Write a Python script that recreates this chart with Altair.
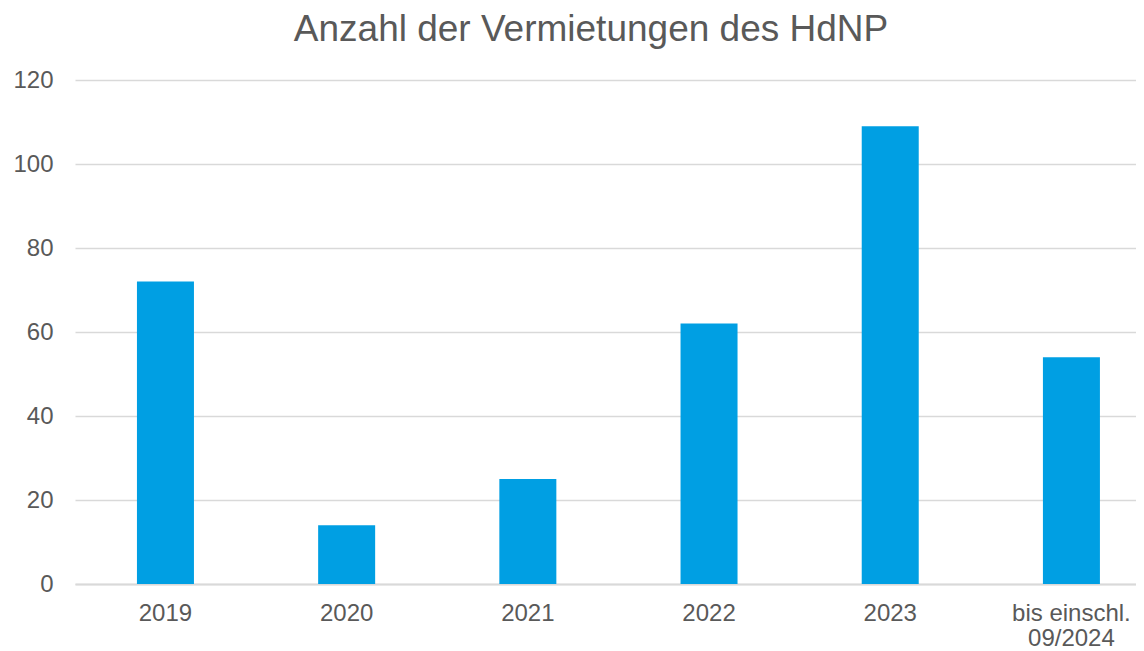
import altair as alt
import pandas as pd

categories = ["2019", "2020", "2021", "2022", "2023", "bis einschl.\n09/2024"]
values = [72, 14, 25, 62, 109, 54]
y_ticks = [0, 20, 40, 60, 80, 100, 120]

df = pd.DataFrame({"Jahr": categories, "Anzahl": values})

FONT = "Liberation Sans"
GRAY = "#595959"

chart = (
    alt.Chart(df)
    .mark_bar(color="#009FE3")
    .encode(
        x=alt.X(
            "Jahr:N",
            sort=categories,
            scale=alt.Scale(paddingInner=0.6854, paddingOuter=0.2705, align=0.632),
            axis=alt.Axis(
                title=None,
                labelAngle=0,
                ticks=False,
                domainColor="#d9d9d9",
                domainWidth=2,
                labelFont=FONT,
                labelFontSize=24,
                labelColor=GRAY,
                labelPadding=17,
                labelLineHeight=25,
                labelExpr="split(datum.label, '\\n')",
            ),
        ),
        y=alt.Y(
            "Anzahl:Q",
            scale=alt.Scale(domain=[0, 120], nice=False),
            axis=alt.Axis(
                title=None,
                values=y_ticks,
                domain=False,
                ticks=False,
                gridColor="#d9d9d9",
                gridWidth=1.5,
                labelFont=FONT,
                labelFontSize=24,
                labelColor=GRAY,
                labelPadding=22,
            ),
        ),
    )
    .properties(
        width=1061,
        height=504,
        title=alt.TitleParams(
            "Anzahl der Vermietungen des HdNP",
            font=FONT,
            fontSize=37,
            fontWeight="normal",
            color=GRAY,
            anchor="middle",
            frame="group",
            dx=-14.5,
            offset=19,
        ),
        padding={"left": 67, "top": 72, "right": 0, "bottom": 65},
        autosize=alt.AutoSizeParams(type="none"),
    )
    .configure_view(stroke=None)
)

chart.save("out.html", embed_options={"renderer": "svg", "actions": False})
